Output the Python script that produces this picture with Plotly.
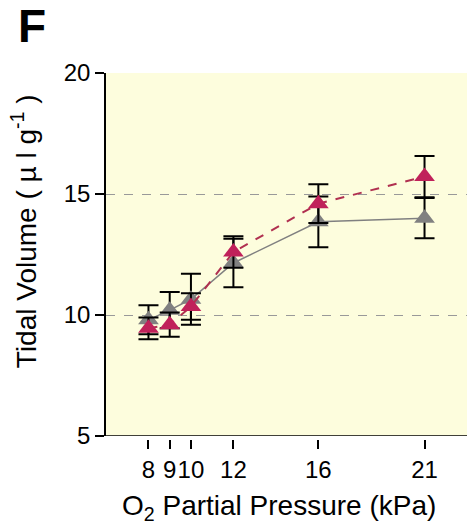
import plotly.graph_objects as go

# O2 partial pressure levels (kPa)
pressure = [8, 9, 10, 12, 16, 21]

# Tidal volume, grey group: mean and SEM
grey_mean = [9.8, 10.2, 10.65, 12.15, 13.85, 14.0]
grey_err = [0.6, 0.75, 1.05, 1.0, 1.05, 0.83]

# Tidal volume, crimson group: mean and SEM
red_mean = [9.45, 9.6, 10.35, 12.6, 14.6, 15.72]
red_err = [0.45, 0.5, 0.55, 0.65, 0.8, 0.85]

x_ticks = [8, 9, 10, 12, 16, 21]
y_ticks = [5, 10, 15, 20]

GREY = "#808080"
RED = "#C0215A"
FONT = "Liberation Sans, Arial, sans-serif"

fig = go.Figure()

fig.add_trace(go.Scatter(
    x=pressure, y=grey_mean, mode="lines+markers",
    line=dict(color=GREY, width=1.5),
    marker=dict(symbol="triangle-up", size=18, color=GREY),
    error_y=dict(type="data", array=grey_err, color="black", thickness=2, width=10),
    showlegend=False,
))
fig.add_trace(go.Scatter(
    x=pressure, y=red_mean, mode="lines+markers",
    line=dict(color="#B03050", width=2, dash="dash"),
    marker=dict(symbol="triangle-up", size=18, color=RED),
    error_y=dict(type="data", array=red_err, color="black", thickness=2, width=10),
    showlegend=False,
))

# bottom border of the plotting frame (x axis is drawn slightly offset below it)
fig.add_shape(type="line", xref="x domain", yref="y", x0=0, x1=1, y0=5, y1=5,
              line=dict(color="black", width=1.5))

fig.update_layout(
    width=467, height=525,
    margin=dict(l=106, r=0, t=73, b=86),
    paper_bgcolor="white",
    plot_bgcolor="#FDFDDD",
    font=dict(family=FONT, color="black"),
    xaxis=dict(
        range=[6, 23], tickvals=x_ticks, ticktext=[str(v) for v in x_ticks],
        tickangle=0,
        showgrid=False, zeroline=False, showline=False,
        ticks="outside", ticklen=9, tickwidth=1.5, tickcolor="black",
        tickfont=dict(size=24, family=FONT),
        anchor="free", position=0,
    ),
    yaxis=dict(
        range=[5, 20], tickvals=y_ticks, domain=[3 / 366, 1],
        showgrid=True, gridcolor="#999999", griddash="dash", gridwidth=1.2,
        zeroline=False, showline=True, linecolor="black", linewidth=1.5,
        ticks="outside", ticklen=9, tickwidth=1.5, tickcolor="black",
        tickfont=dict(size=24, family=FONT),
    ),
)

# axis titles
fig.add_annotation(text="O<sub>2</sub> Partial Pressure (kPa)", xref="paper", yref="paper",
                   x=0.479, y=-0.135, xanchor="center", yanchor="top", showarrow=False,
                   font=dict(size=28, family=FONT))
fig.add_annotation(text="Tidal Volume ( µ l g<sup>-1</sup> )", xref="paper", yref="paper",
                   x=-0.227, y=0.568, xanchor="center", yanchor="middle", textangle=-90,
                   showarrow=False, font=dict(size=28, family=FONT))

# panel letter
fig.add_annotation(text="<b>F</b>", xref="paper", yref="paper", x=-0.249, y=1.205,
                   xanchor="left", yanchor="top", showarrow=False,
                   font=dict(size=46, family=FONT, color="black"))

fig.write_html("out.html")
